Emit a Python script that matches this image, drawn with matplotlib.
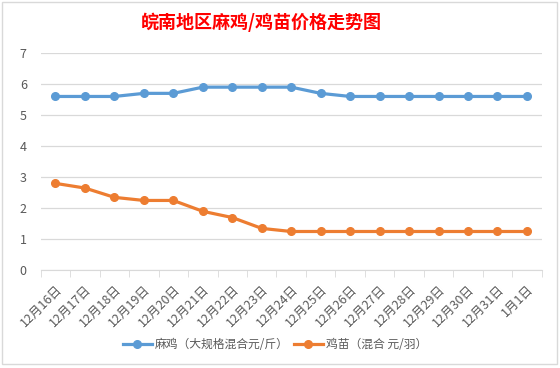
import matplotlib.pyplot as plt
from matplotlib.patches import Rectangle

plt.rcParams['font.family'] = ['Noto Sans CJK SC', 'DejaVu Sans']

# data
dates = ['12月16日', '12月17日', '12月18日', '12月19日', '12月20日', '12月21日',
         '12月22日', '12月23日', '12月24日', '12月25日', '12月26日', '12月27日',
         '12月28日', '12月29日', '12月30日', '12月31日', '1月1日']
maji = [5.6, 5.6, 5.6, 5.7, 5.7, 5.9, 5.9, 5.9, 5.9, 5.7, 5.6, 5.6, 5.6, 5.6, 5.6, 5.6, 5.6]
jimiao = [2.8, 2.65, 2.35, 2.25, 2.25, 1.9, 1.7, 1.35, 1.25, 1.25, 1.25, 1.25, 1.25, 1.25, 1.25, 1.25, 1.25]
label_maji = '麻鸡（大规格混合元/斤）'
label_jimiao = '鸡苗（混合 元/羽）'
title = '皖南地区麻鸡/鸡苗价格走势图'

W, H = 560, 368
fig = plt.figure(figsize=(W / 100, H / 100), dpi=100)

# chart border
fig.patches.append(Rectangle((2 / W, 4 / H), 555 / W, 362 / H, transform=fig.transFigure,
                             fill=False, edgecolor='#D9D9D9', linewidth=1))

ax = fig.add_axes([40.7 / W, 1 - 270.3 / H, 501 / W, 217.3 / H])
x = list(range(len(dates)))
ax.plot(x, maji, color='#5B9BD5', linewidth=2.3, marker='o', markersize=5.5, label=label_maji)
ax.plot(x, jimiao, color='#ED7D31', linewidth=2.3, marker='o', markersize=5.5, label=label_jimiao)

ax.set_xlim(-0.5, len(dates) - 0.5)
ax.set_ylim(0, 7)
ax.set_yticks(range(0, 8))
ax.grid(axis='y', color='#D9D9D9', linewidth=0.9)
ax.set_axisbelow(True)
for s in ['top', 'right', 'left']:
    ax.spines[s].set_visible(False)
ax.spines['bottom'].set_color('#D9D9D9')
ax.tick_params(axis='y', length=0, pad=10, labelsize=9, labelcolor='#595959')

ax.set_xticks(x)
ax.set_xticklabels(dates, rotation=45, ha='right', rotation_mode='anchor',
                   fontsize=9, color='#595959')
ax.tick_params(axis='x', length=0, pad=9)
# tick marks between categories
ax.set_xticks([i - 0.5 for i in range(len(dates) + 1)], minor=True)
ax.tick_params(axis='x', which='minor', length=5, color='#D9D9D9', direction='out')

fig.text(261 / W, 1 - 22 / H, title, color='#FF0000', fontsize=13, fontweight='bold',
         ha='center', va='center')

fig.legend(loc='center', bbox_to_anchor=(275 / W, 1 - 345 / H), ncol=2, frameon=False,
           fontsize=8.5, labelcolor='#595959', handlelength=2.45, columnspacing=0.45,
           handletextpad=0.25)

fig.savefig('out.png', dpi=100, facecolor='white')
